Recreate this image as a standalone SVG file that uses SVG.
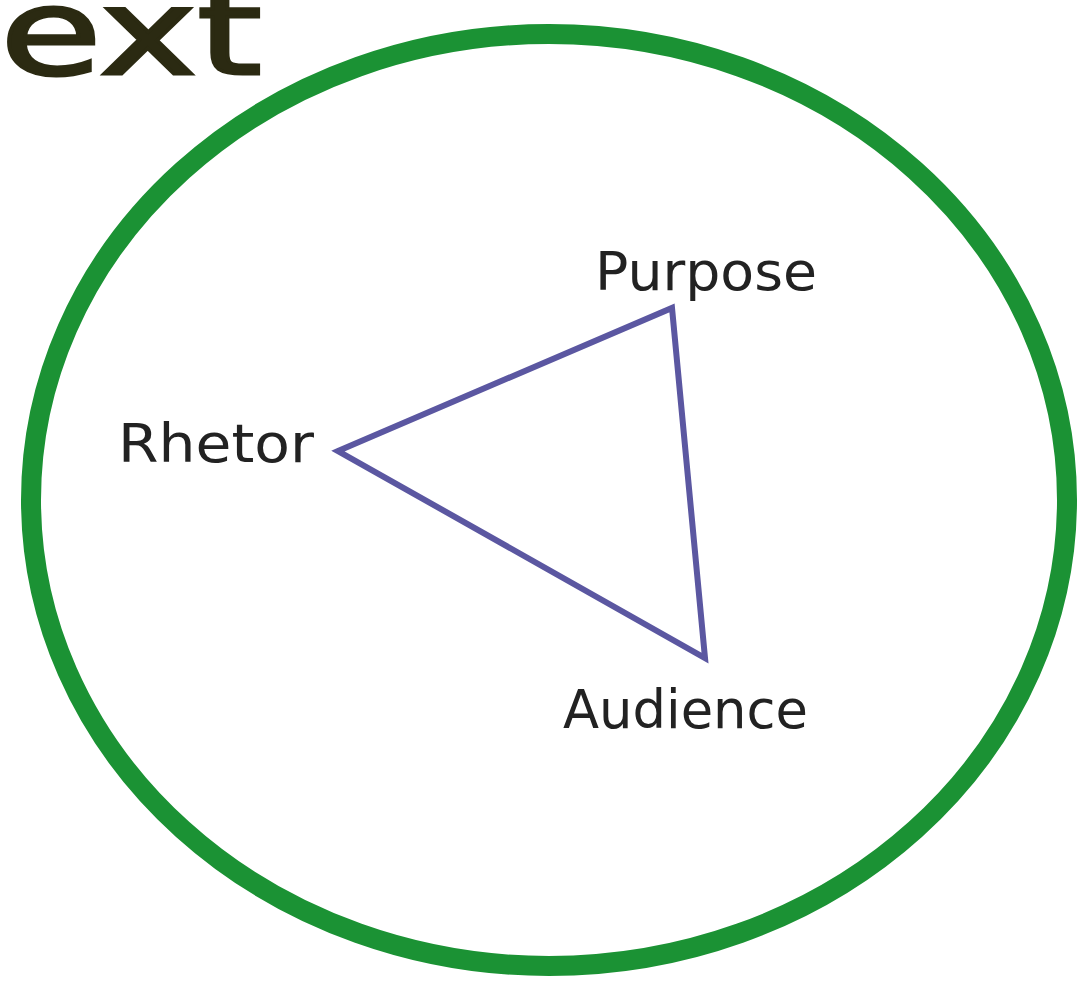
<svg xmlns="http://www.w3.org/2000/svg" width="1082" height="988" viewBox="0 0 1082 988">
<style>
.lbl{font-family:"DejaVu Sans","Liberation Sans",sans-serif;font-size:54px;fill:#222;}
.title{font-family:"DejaVu Sans","Liberation Sans",sans-serif;font-size:120px;fill:#2b2a12;stroke:#2b2a12;stroke-width:3;}
</style>
<rect width="1082" height="988" fill="#ffffff"/>
<text class="title" x="0" y="74" textLength="262" lengthAdjust="spacingAndGlyphs">ext</text>
<g id="context">
<ellipse cx="549" cy="500" rx="518" ry="466" fill="none" stroke="#1b9234" stroke-width="20"/>
</g>
<g id="connectors">
<polygon points="338,451 672,308 705,658" fill="none" stroke="#5b57a1" stroke-width="6" stroke-linejoin="miter"/>
</g>
<g id="rhetor"><text class="lbl" x="118" y="462" textLength="196" lengthAdjust="spacingAndGlyphs">Rhetor</text></g>
<g id="purpose"><text class="lbl" x="595" y="290" textLength="222" lengthAdjust="spacingAndGlyphs">Purpose</text></g>
<g id="audience"><text class="lbl" x="563" y="728" textLength="245" lengthAdjust="spacingAndGlyphs">Audience</text></g>
</svg>
